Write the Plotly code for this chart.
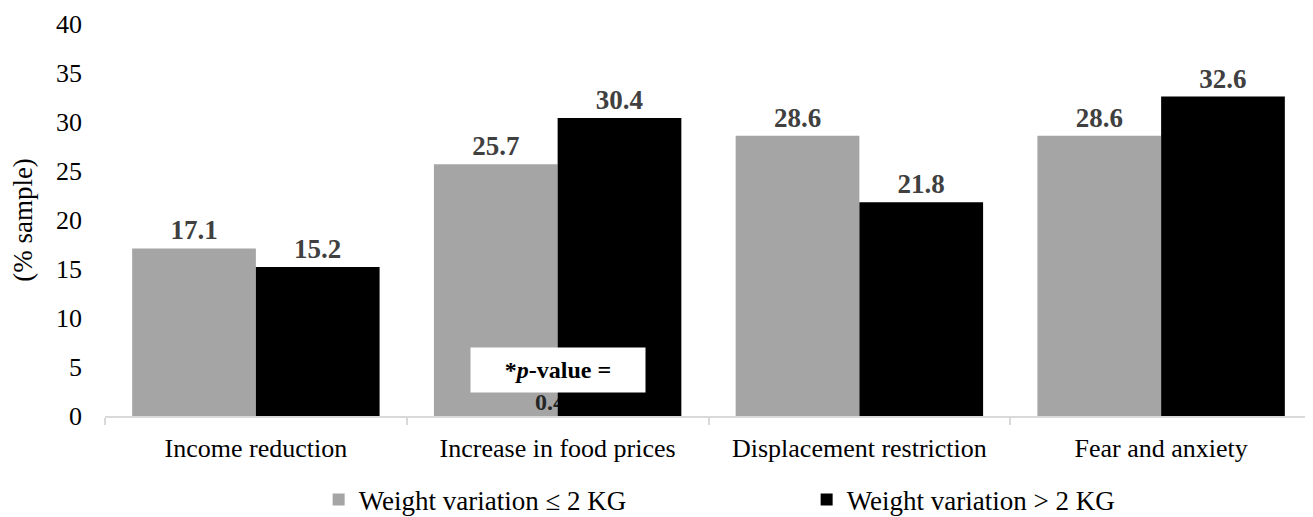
import plotly.graph_objects as go

categories = ["Income reduction", "Increase in food prices", "Displacement restriction", "Fear and anxiety"]
series_low_name = "Weight variation \u2264 2 KG"
series_high_name = "Weight variation > 2 KG"
low_values = [17.1, 25.7, 28.6, 28.6]
high_values = [15.2, 30.4, 21.8, 32.6]
y_ticks = [0, 5, 10, 15, 20, 25, 30, 35, 40]
pvalue_line1 = "<b>*<i>p</i>-value =</b>"
pvalue_line2 = "0.4"

FONT = "Liberation Serif, Times New Roman, serif"
xpos = list(range(len(categories)))
bw = 0.41

fig = go.Figure()

# gray bars on base subplot
fig.add_trace(go.Bar(
    x=xpos, y=low_values, name=series_low_name,
    marker=dict(color="#a5a5a5", line=dict(width=0)),
    offset=-bw, width=bw,
    text=[f"{v:.1f}" for v in low_values], textposition="outside",
    textfont=dict(family=FONT, size=27, color="#404040"),
    texttemplate="<b>%{text}</b>", cliponaxis=False,
    xaxis="x", yaxis="y",
))
# second line of p-value text (partly hidden under the black bar)
fig.add_trace(go.Scatter(
    x=[0.975], y=[1.25], mode="text", text=["<b>" + pvalue_line2 + "</b>"],
    textposition="middle center",
    textfont=dict(family=FONT, size=24, color="#262626"),
    showlegend=False, hoverinfo="skip", xaxis="x", yaxis="y",
))
# black bars on overlaying subplot (drawn above)
fig.add_trace(go.Bar(
    x=xpos, y=high_values, name=series_high_name,
    marker=dict(color="#000000", line=dict(width=0)),
    offset=0, width=bw,
    text=[f"{v:.1f}" for v in high_values], textposition="outside",
    textfont=dict(family=FONT, size=27, color="#404040"),
    texttemplate="<b>%{text}</b>", cliponaxis=False,
    xaxis="x2", yaxis="y2",
))

fig.add_annotation(
    x=1, y=4.7, xref="x", yref="y", text=pvalue_line1, showarrow=False,
    bgcolor="#ffffff", width=172, height=42, borderpad=1,
    font=dict(family=FONT, size=24, color="#000000"),
)

fig.update_layout(
    width=1305, height=509,
    margin=dict(l=97, r=1, t=16, b=101, autoexpand=False),
    paper_bgcolor="white", plot_bgcolor="white",
    font=dict(family=FONT, color="#000000"),
    showlegend=True,
    legend=dict(
        orientation="h", x=0.177, xanchor="left", y=-0.214, yanchor="middle",
        font=dict(family=FONT, size=27, color="#000000"),
        entrywidth=443, entrywidthmode="pixels",
        traceorder="normal", bgcolor="rgba(0,0,0,0)",
    ),
    xaxis=dict(
        range=[-0.5, 3.5], tickmode="array", tickvals=xpos, ticktext=categories,
        ticks="", showgrid=False, zeroline=False, automargin=False,
        showline=True, linecolor="#d9d9d9", linewidth=1.5,
        tickfont=dict(family=FONT, size=26, color="#000000"),
        ticklabelstandoff=8,
        minor=dict(tickmode="array", tickvals=[-0.5, 0.5, 1.5, 2.5, 3.5],
                   ticks="outside", ticklen=7, tickcolor="#d9d9d9", tickwidth=1.5,
                   showgrid=False),
    ),
    yaxis=dict(
        range=[0, 40], tickmode="array", tickvals=y_ticks, automargin=False,
        showgrid=False, zeroline=False, showline=False, ticks="",
        tickfont=dict(family=FONT, size=26, color="#000000"),
        ticklabelstandoff=22,
        title=dict(text="(% sample)", font=dict(family=FONT, size=27, color="#000000"),
                   standoff=21),
    ),
    xaxis2=dict(range=[-0.5, 3.5], overlaying="x", visible=False),
    yaxis2=dict(range=[0, 40], overlaying="y", visible=False),
)

fig.write_html("out.html")
